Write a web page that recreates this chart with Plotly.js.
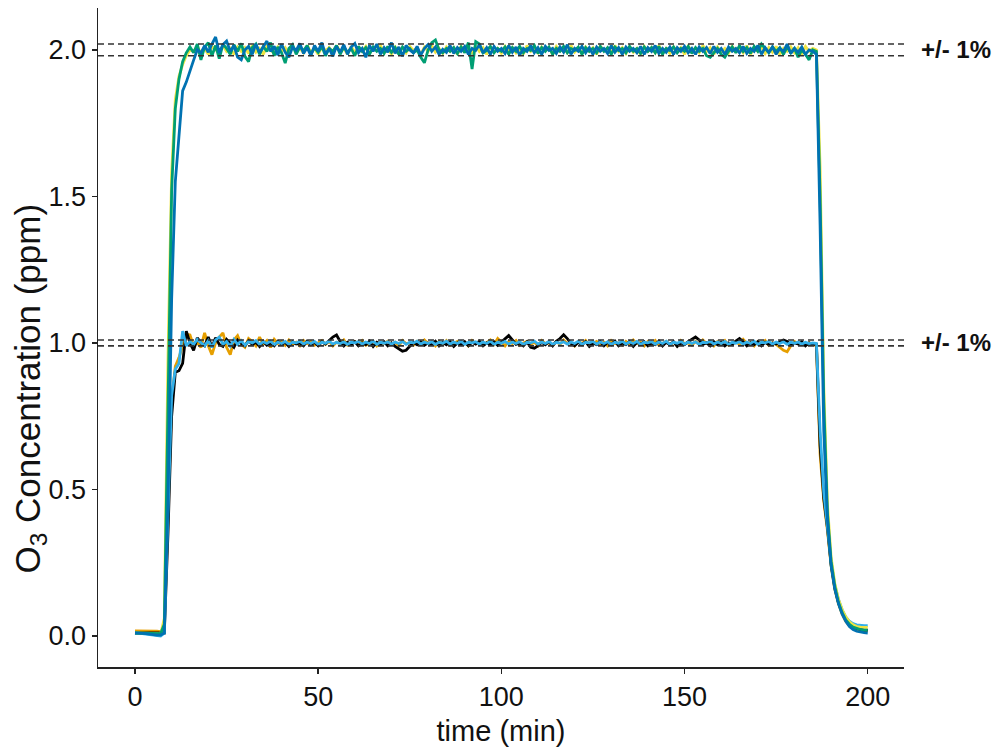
<!DOCTYPE html>
<html>
<head>
<meta charset="utf-8">
<script src="https://cdn.plot.ly/plotly-3.0.1.min.js"></script>
<style>html,body{margin:0;padding:0;background:#fff;}#chart{width:998px;height:750px;}</style>
</head>
<body>
<div id="chart"></div>
<script>
const timeMin = [0,1,2,3,4,5,6,7,8,9,10,11,12,13,14,15,16,17,18,19,20,21,22,23,24,25,26,27,28,29,30,31,32,33,34,35,36,37,38,39,40,41,42,43,44,45,46,47,48,49,50,51,52,53,54,55,56,57,58,59,60,61,62,63,64,65,66,67,68,69,70,71,72,73,74,75,76,77,78,79,80,81,82,83,84,85,86,87,88,89,90,91,92,93,94,95,96,97,98,99,100,101,102,103,104,105,106,107,108,109,110,111,112,113,114,115,116,117,118,119,120,121,122,123,124,125,126,127,128,129,130,131,132,133,134,135,136,137,138,139,140,141,142,143,144,145,146,147,148,149,150,151,152,153,154,155,156,157,158,159,160,161,162,163,164,165,166,167,168,169,170,171,172,173,174,175,176,177,178,179,180,181,182,183,184,185,186,187,188,189,190,191,192,193,194,195,196,197,198,199,200];

const yellow2ppm = [
0.010,0.010,0.010,0.010,0.010,0.010,0.008,0.006,0.060,0.950,
1.580,1.830,1.910,1.950,1.980,2.000,1.995,2.010,1.990,2.005,
1.985,2.012,2.000,1.990,2.015,1.995,2.005,1.985,2.010,1.995,
2.008,1.988,2.015,1.992,2.005,1.985,2.012,1.998,1.990,2.010,
1.995,2.008,1.985,2.012,1.995,2.005,1.990,2.015,1.992,2.005,
1.985,2.010,1.998,2.008,1.990,2.015,1.995,2.005,1.985,2.012,
1.992,2.008,1.995,2.012,1.988,2.005,1.998,2.015,1.990,2.005,
1.985,2.010,1.995,2.008,1.990,2.012,1.998,2.005,1.985,2.010,
1.995,2.015,1.992,2.005,1.988,2.010,1.995,2.008,1.985,2.012,
1.998,2.005,1.990,2.015,1.995,2.008,1.985,2.010,1.992,2.005,
1.988,2.012,1.995,2.008,1.990,2.005,1.985,2.015,1.995,2.005,
1.990,2.010,1.998,2.008,1.985,2.012,1.995,2.005,1.990,2.015,
1.992,2.005,1.988,2.010,1.995,2.008,1.985,2.012,1.998,2.005,
1.990,2.015,1.995,2.008,1.988,2.010,1.992,2.005,1.985,2.012,
1.995,2.008,1.990,2.015,1.992,2.005,1.988,2.010,1.995,2.008,
1.985,2.012,1.998,2.005,1.990,2.015,1.995,2.008,1.985,2.010,
1.992,2.005,1.988,2.012,1.995,2.008,1.990,2.015,1.985,2.005,
1.995,2.010,1.988,2.008,1.992,2.012,1.985,2.005,1.995,2.010,
1.990,2.008,1.985,2.012,1.995,2.005,2.000,1.600,0.850,0.450,
0.270,0.180,0.125,0.090,0.065,0.048,0.038,0.032,0.030,0.029,0.029];

const green2ppm = [
0.010,0.010,0.010,0.010,0.010,0.010,0.010,0.008,0.040,0.850,
1.520,1.800,1.900,1.960,1.990,2.010,1.990,2.020,1.966,2.010,
2.025,1.980,2.015,1.970,2.020,2.005,1.985,2.018,1.995,2.022,
1.978,1.960,2.008,2.020,1.985,2.012,1.995,2.025,1.980,2.010,
1.990,1.955,2.005,2.018,1.985,2.010,1.998,2.015,1.985,2.008,
1.992,2.012,1.980,2.005,1.995,2.015,1.985,2.010,1.992,2.005,
1.980,2.012,1.995,2.008,1.985,2.010,1.995,2.005,1.988,2.012,
1.992,2.008,1.985,2.010,1.995,2.005,1.990,2.000,1.975,1.956,
2.000,2.025,2.034,2.000,1.990,2.005,1.995,2.008,1.988,2.010,
1.990,2.025,1.935,2.028,2.020,1.990,1.998,2.012,1.990,2.005,
1.995,2.010,1.985,2.008,1.995,2.012,1.990,2.005,1.998,2.015,
1.988,2.008,1.995,2.010,1.985,2.005,1.995,2.012,1.990,2.005,
1.998,2.010,1.985,2.008,1.995,2.005,1.990,2.012,1.995,2.008,
1.985,2.010,1.998,2.005,1.990,2.012,1.995,2.005,1.988,2.010,
1.995,2.008,1.990,2.012,1.985,2.005,1.998,2.010,1.990,2.005,
1.995,2.012,1.988,2.008,1.995,2.005,1.980,1.975,1.990,2.005,
1.985,1.975,1.995,2.010,1.990,2.015,1.995,2.008,1.988,2.012,
1.995,2.020,2.005,1.990,2.010,1.995,2.008,1.985,2.010,1.990,
2.005,1.975,2.000,1.985,1.966,2.000,1.995,1.500,0.800,0.420,
0.255,0.170,0.115,0.080,0.055,0.040,0.030,0.025,0.022,0.020,0.020];

const blue2ppm = [
0.010,0.010,0.010,0.008,0.006,0.004,0.003,0.003,0.010,0.450,
1.150,1.550,1.720,1.860,1.890,1.930,1.965,2.000,1.990,2.015,
1.992,2.020,2.044,1.990,2.018,2.030,1.995,2.015,1.975,1.966,
2.000,2.012,1.985,2.020,1.990,2.010,2.030,1.995,2.012,1.982,
2.020,1.992,1.975,2.010,1.998,2.022,1.988,2.008,1.980,2.015,
1.995,2.025,1.985,2.005,1.978,2.012,1.992,2.018,1.985,2.010,
2.022,1.990,2.005,1.975,2.015,1.995,2.020,1.985,2.008,1.992,
2.025,1.988,2.010,1.978,2.015,2.000,1.990,2.012,1.982,2.005,
2.018,1.995,2.010,1.985,2.002,1.992,2.015,1.988,2.008,1.995,
2.012,1.985,2.005,1.998,2.018,1.990,2.008,1.985,2.012,1.995,
2.005,1.988,2.015,1.992,2.010,1.982,2.005,1.995,2.015,1.990,
2.008,1.985,2.012,1.998,2.005,1.988,2.010,1.992,2.018,1.985,
2.005,1.995,2.012,1.990,2.008,1.985,2.010,1.995,2.005,1.988,
2.015,1.992,2.008,1.985,2.010,1.995,2.005,1.990,2.012,1.985,
2.008,1.995,2.015,1.988,2.005,1.992,2.010,1.985,2.008,1.995,
2.012,1.990,2.005,1.985,2.010,1.995,2.008,1.988,2.012,1.992,
2.005,1.985,2.010,1.995,2.005,1.990,2.012,1.988,2.005,1.995,
2.015,1.985,2.008,1.992,2.010,1.985,2.005,1.995,2.020,1.988,
2.005,1.992,2.010,1.985,2.000,1.995,1.985,1.400,0.700,0.400,
0.240,0.160,0.110,0.075,0.050,0.032,0.022,0.016,0.013,0.011,0.010];

const orange1ppm = [
0.017,0.017,0.018,0.017,0.017,0.017,0.016,0.015,0.030,0.420,
0.800,0.920,0.950,0.990,1.030,1.027,0.990,1.000,0.985,1.034,
0.990,0.960,1.000,1.020,1.034,0.985,0.960,1.010,1.025,0.995,
0.985,1.015,1.005,0.990,1.020,0.995,1.008,0.985,1.012,0.998,
1.005,0.992,1.010,0.995,1.002,0.990,1.008,0.998,1.005,0.992,
1.000,1.008,0.995,1.005,0.990,1.002,0.998,1.010,0.992,1.000,
1.005,0.995,1.008,0.992,1.000,1.005,0.990,1.002,0.998,1.006,
0.995,1.002,0.990,1.008,0.998,1.000,0.992,1.005,0.995,1.010,
0.998,1.002,0.990,1.005,0.995,1.008,0.992,1.000,1.005,0.995,
1.002,0.990,1.008,0.998,1.005,0.992,1.000,1.010,0.995,1.015,
1.002,0.990,1.005,0.998,1.008,0.992,1.000,1.005,0.995,1.002,
0.990,1.008,0.998,1.000,0.992,1.005,0.995,1.010,0.998,1.002,
0.990,1.005,0.998,1.008,0.992,1.000,1.005,0.995,1.002,0.990,
1.008,0.998,1.000,0.992,1.005,0.995,1.010,0.998,1.002,0.990,
1.005,0.998,1.008,0.992,1.000,1.005,0.995,1.002,0.990,1.008,
0.998,1.000,0.992,1.005,0.995,1.010,0.998,1.002,0.990,1.005,
0.998,1.008,0.992,1.000,1.005,0.995,1.012,0.998,1.002,0.990,
1.005,0.998,1.008,0.992,1.000,0.995,0.985,0.975,0.970,0.990,
1.005,0.998,1.002,0.992,1.000,0.995,0.990,0.620,0.460,0.360,
0.240,0.160,0.110,0.075,0.050,0.035,0.027,0.022,0.019,0.018,0.017];

const black1ppm = [
0.010,0.010,0.010,0.010,0.010,0.010,0.010,0.010,0.010,0.350,
0.750,0.900,0.905,0.930,1.040,1.000,0.975,1.017,1.000,0.990,
1.020,0.985,1.018,0.995,0.988,1.012,1.000,0.985,1.010,0.998,
0.990,1.008,0.995,1.002,0.988,1.005,0.992,1.000,0.990,1.006,
0.995,1.002,0.988,1.004,0.996,1.000,0.990,1.006,0.994,1.002,
0.990,1.004,0.996,1.008,1.020,1.027,1.005,0.990,1.002,0.994,
1.004,0.990,1.000,0.994,1.006,0.988,1.002,0.996,1.004,0.990,
1.000,0.988,0.980,0.972,0.975,0.990,1.002,0.994,1.004,0.992,
1.000,0.996,1.006,0.990,1.002,0.994,1.004,0.988,1.000,0.994,
1.004,0.990,1.002,0.996,1.006,0.990,1.000,0.994,1.004,0.992,
1.002,1.012,1.025,1.010,0.995,1.000,0.990,1.004,0.985,0.982,
0.990,1.002,0.994,1.004,0.990,1.006,1.015,1.028,1.015,0.998,
0.990,1.002,0.994,1.004,0.988,1.000,0.994,1.004,0.990,1.002,
0.994,1.006,0.990,1.000,0.994,1.004,0.988,1.002,0.996,1.004,
0.990,1.000,0.994,1.006,0.990,1.002,0.994,1.004,0.988,1.000,
0.994,1.004,1.012,1.020,1.010,0.995,1.000,0.990,1.004,0.994,
1.002,0.990,1.000,0.994,1.006,1.015,1.004,0.990,1.000,0.994,
1.004,0.990,1.002,0.994,1.000,0.996,1.004,1.010,1.005,0.994,
1.000,0.996,1.004,0.990,1.000,0.995,0.995,0.650,0.470,0.370,
0.245,0.165,0.115,0.080,0.055,0.040,0.030,0.025,0.022,0.020,0.020];

const skyblue1ppm = [
0.010,0.010,0.008,0.006,0.004,0.002,0.000,0.000,0.010,0.400,
0.820,0.910,0.930,1.040,0.990,1.005,0.995,1.012,1.000,0.990,
1.008,0.985,1.010,1.020,0.995,1.005,0.988,1.012,0.995,1.008,
0.992,1.005,1.000,1.008,0.995,1.004,0.998,1.006,0.994,1.003,
0.998,1.005,0.995,1.002,1.000,1.006,0.996,1.003,0.998,1.005,
0.995,1.002,0.999,1.006,0.996,1.002,0.998,1.004,0.995,1.002,
1.000,1.005,0.996,1.003,0.998,1.006,0.995,1.002,0.999,1.004,
0.996,1.003,0.998,1.005,0.995,1.002,1.000,1.006,0.996,1.003,
0.998,1.004,0.995,1.002,0.999,1.006,0.996,1.003,0.998,1.005,
0.995,1.002,1.000,1.004,0.996,1.003,0.998,1.006,0.995,1.002,
0.999,1.005,0.996,1.003,0.998,1.004,0.995,1.002,1.000,1.006,
0.996,1.003,0.998,1.005,0.995,1.002,0.999,1.004,0.996,1.003,
0.998,1.006,0.995,1.002,1.000,1.005,0.996,1.003,0.998,1.004,
0.995,1.002,0.999,1.006,0.996,1.003,0.998,1.005,0.995,1.002,
1.000,1.004,0.996,1.003,0.998,1.006,0.995,1.002,0.999,1.005,
0.996,1.003,0.998,1.004,0.995,1.002,1.000,1.006,0.996,1.003,
0.998,1.005,0.995,1.002,0.999,1.004,0.996,1.003,0.998,1.006,
0.995,1.002,1.000,1.005,0.996,1.003,0.998,1.004,0.995,1.002,
0.999,1.003,0.996,1.002,0.998,1.000,0.998,0.700,0.490,0.380,
0.255,0.175,0.125,0.090,0.065,0.050,0.042,0.038,0.036,0.035,0.035];

const targetLevels = [1.0, 2.0];
const tolerance = 0.01;          // +/- 1%
const toleranceLabel = "+/- 1%";
const xTicks = [0, 50, 100, 150, 200];
const yTicks = [0, 0.5, 1.0, 1.5, 2.0];
const yTitle = "O<sub>3</sub> Concentration (ppm)";
const xTitle = "time (min)";

const FONT = "Liberation Sans, Arial, Helvetica, sans-serif";

const seriesList = [
  {y: orange1ppm, color: "#E69F00"},
  {y: black1ppm, color: "#000000"},
  {y: skyblue1ppm, color: "#33B0EA"},
  {y: yellow2ppm, color: "#F0E442"},
  {y: green2ppm, color: "#009E73"},
  {y: blue2ppm, color: "#0072B2"}
];

const traces = seriesList.map(s => ({
  x: timeMin, y: s.y, type: "scatter", mode: "lines",
  line: {color: s.color, width: 2.8}, showlegend: false, hoverinfo: "skip"
}));

const shapes = [];
const annotations = [];
targetLevels.forEach(lv => {
  [lv * (1 + tolerance), lv * (1 - tolerance)].forEach(v => {
    shapes.push({type: "line", xref: "paper", x0: 0, x1: 1, yref: "y", y0: v, y1: v,
      line: {color: "#333", width: 1.6, dash: "6px,4px"}, layer: "above"});
  });
  annotations.push({xref: "paper", x: 1.018, yref: "y", y: lv, text: toleranceLabel,
    showarrow: false, xanchor: "left", yanchor: "middle",
    font: {family: FONT, size: 24, color: "#111", weight: "bold"}});
});

// y-axis title (placed as in the reference, slightly below the panel centre)
annotations.push({xref: "paper", x: -0.084, yref: "paper", y: 0.423, text: yTitle,
  textangle: -90, showarrow: false, xanchor: "center", yanchor: "middle",
  font: {family: FONT, size: 35, color: "#111"}});

const layout = {
  width: 998, height: 750,
  margin: {l: 98, r: 94, t: 8, b: 83},
  paper_bgcolor: "#fff", plot_bgcolor: "#fff",
  font: {family: FONT, color: "#111"},
  xaxis: {
    range: [-10.1, 209.9], tickvals: xTicks, showgrid: false, zeroline: false,
    showline: true, linecolor: "#222", linewidth: 1.5,
    ticks: "outside", ticklen: 5, tickwidth: 1.5, tickcolor: "#222",
    tickfont: {family: FONT, size: 27, color: "#111"},
    title: {text: xTitle, font: {family: FONT, size: 29, color: "#111"}, standoff: 10}
  },
  yaxis: {
    range: [-0.106, 2.143], tickvals: yTicks, tickformat: ".1f", showgrid: false, zeroline: false,
    showline: true, linecolor: "#222", linewidth: 1.5,
    ticks: "outside", ticklen: 5, tickwidth: 1.5, tickcolor: "#222",
    tickfont: {family: FONT, size: 27, color: "#111"}
  },
  shapes: shapes,
  annotations: annotations
};

Plotly.newPlot("chart", traces, layout, {displayModeBar: false, staticPlot: true});
</script>
</body>
</html>
